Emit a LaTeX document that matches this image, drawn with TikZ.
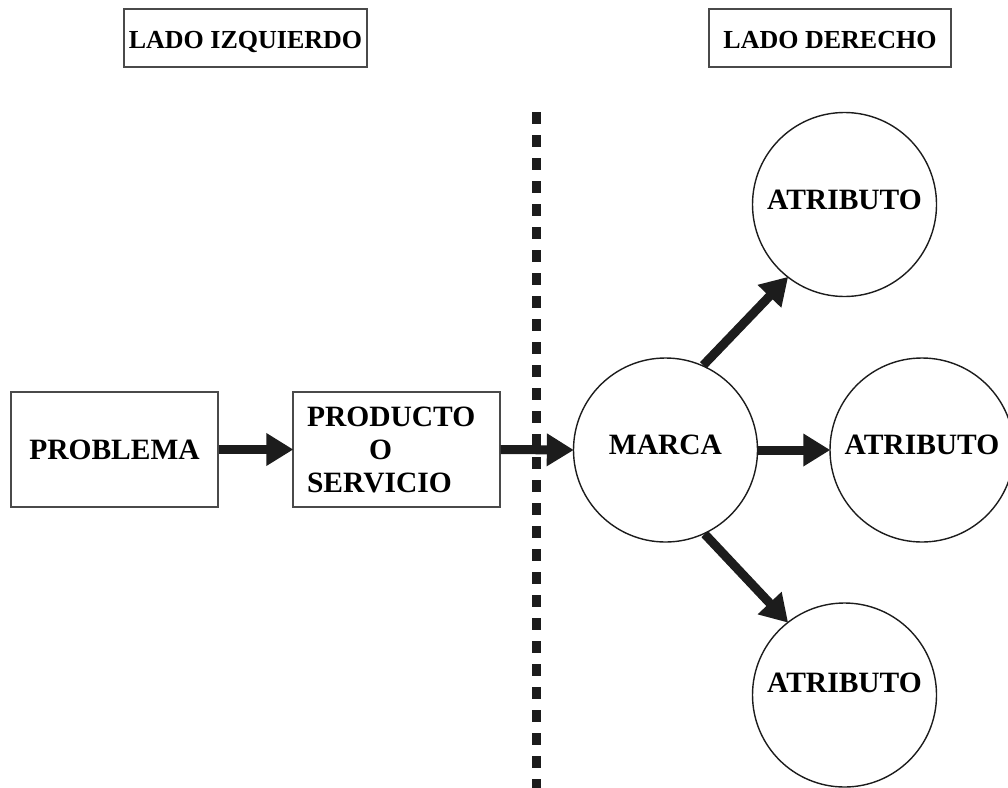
\documentclass[tikz,border=0pt]{standalone}
\usepackage{fontspec}
\setmainfont{Liberation Serif}
\usetikzlibrary{arrows.meta}
\definecolor{ink}{HTML}{1C1C1C}
\definecolor{frame}{HTML}{4A4A4A}
\tikzset{
  headbox/.style={draw=frame, line width=1.3pt, rectangle, inner sep=0pt,
    minimum height=58pt, text height=20pt, text depth=0pt,
    font=\bfseries\fontsize{26}{30}\selectfont},
  stepbox/.style={draw=frame, line width=1.3pt, rectangle, inner sep=0pt,
    minimum width=207pt, minimum height=115pt,
    font=\bfseries\fontsize{29.5}{33}\selectfont},
  bubble/.style={draw=ink, line width=1.4pt, circle, inner sep=0pt,
    minimum size=184pt, text height=19.5pt, text depth=10pt,
    font=\bfseries\fontsize{29.5}{33}\selectfont},
  flow/.style={draw=ink, line width=9pt,
    -{Triangle[length=27pt,width=31pt]}, shorten >=-1pt},
  divider/.style={draw=ink, line width=9pt, dash pattern=on 12pt off 11pt}
}
\begin{document}
\begin{tikzpicture}[x=1pt, y=-1pt]
  \useasboundingbox (0,0) rectangle (1008,787);

  % column headings
  \node[headbox, minimum width=243pt] (izq) at (245.5,38) {LADO IZQUIERDO};
  \node[headbox, minimum width=242pt] (der) at (830,38) {LADO DERECHO};

  % dotted divider between the two sides
  \coordinate (divtop) at (536.5,112);
  \coordinate (divbot) at (536.5,800);
  \draw[divider] (divtop) -- (divbot);

  % left side
  \node[stepbox, text height=19.5pt, text depth=0pt] (prob) at (114.5,449.5) {PROBLEMA};
  \node[stepbox, align=left, text width=179pt] (prod) at (396.5,449.5)
    {PRODUCTO\\\hspace*{62pt}O\\SERVICIO};

  % right side
  \node[bubble] (marca) at (665.5,450) {MARCA};
  \node[bubble] (atr1) at (844.5,204.5) {ATRIBUTO};
  \node[bubble] (atr2) at (922,450) {ATRIBUTO};
  \node[bubble, text depth=24pt] (atr3) at (844.5,695) {ATRIBUTO};

  % connectors
  \draw[flow] (prob.east) -- (prod.west);
  \draw[flow] (prod.east) -- (marca.west);
  \draw[flow] (marca.east) -- (atr2.west);
  \draw[flow] (marca.66) -- (atr1.232);
  \draw[flow] (marca.-65) -- (atr3.128);
\end{tikzpicture}
\end{document}
